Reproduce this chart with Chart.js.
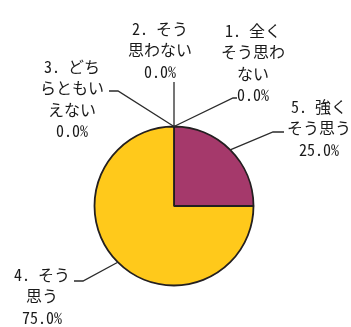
<!DOCTYPE html>
<html>
<head>
<meta charset="utf-8">
<script src="https://cdn.jsdelivr.net/npm/chart.js@4/dist/chart.umd.min.js"></script>
<style>
  html, body { margin: 0; padding: 0; background: #ffffff; }
  #wrap { width: 351px; height: 327px; }
</style>
</head>
<body>
<div id="wrap"><canvas id="c" width="351" height="327"></canvas></div>
<script>
// ---- data (drawn clockwise from 12 o'clock) ----
const categories = ['5. 強くそう思う', '4. そう思う', '3. どちらともいえない', '2. そう思わない', '1. 全くそう思わない'];
const values = [25, 75, 0, 0, 0];
const colors = ['#A5396B', '#FFC91B', '#4F81BD', '#9BBB59', '#8064A2'];

// ---- label layout (text centre x, first line centre y, leader elbow / end) ----
const labelLayout = [
  { cx: 319, y0: 107, elbow: [273, 132], end: [284, 132] },
  { cx: 42,  y0: 275, elbow: [83, 281],  end: [74, 281] },
  { cx: 72,  y0: 67,  elbow: [118, 91],  end: [109, 91] },
  { cx: 160, y0: 29,  elbow: [174, 82],  end: [174, 82] },
  { cx: 253, y0: 31,  elbow: [233, 98],  end: [237, 98] }
];
const LINE_H = 21.3;
const FONT = '16px "Noto Sans Mono CJK JP", "Noto Sans CJK JP", sans-serif';

function wrapLabel(s) {
  // first line: number prefix + two characters, then four characters per line
  const m = s.match(/^(\d+\.\s)(.*)$/);
  const head = m[1], rest = Array.from(m[2]);
  const lines = [head + rest.slice(0, 2).join('')];
  for (let i = 2; i < rest.length; i += 4) lines.push(rest.slice(i, i + 4).join(''));
  return lines;
}

const total = values.reduce((a, b) => a + b, 0);

const leaderPlugin = {
  id: 'leaders',
  afterDatasetsDraw(chart) {
    const ctx = chart.ctx;
    const meta = chart.getDatasetMeta(0);
    ctx.save();
    meta.data.forEach((arc, i) => {
      const p = arc.getProps(['x', 'y', 'startAngle', 'endAngle', 'outerRadius'], true);
      const a = (p.startAngle + p.endAngle) / 2;
      const ax = p.x + Math.cos(a) * p.outerRadius;
      const ay = p.y + Math.sin(a) * p.outerRadius;
      const L = labelLayout[i];
      ctx.strokeStyle = '#2b2b2b';
      ctx.lineWidth = 1.3;
      ctx.beginPath();
      ctx.moveTo(ax, ay);
      ctx.lineTo(L.elbow[0], L.elbow[1]);
      ctx.lineTo(L.end[0], L.end[1]);
      ctx.stroke();

      const lines = wrapLabel(categories[i]);
      lines.push((values[i] / total * 100).toFixed(1) + '%');
      ctx.fillStyle = '#1a1a1a';
      ctx.font = FONT;
      ctx.textAlign = 'center';
      ctx.textBaseline = 'middle';
      lines.forEach((t, k) => ctx.fillText(t, L.cx, L.y0 + k * LINE_H));
    });
    ctx.restore();
  }
};

new Chart(document.getElementById('c'), {
  type: 'pie',
  data: {
    labels: categories,
    datasets: [{
      data: values,
      backgroundColor: colors,
      borderColor: '#231F20',
      borderWidth: 1.8,
      borderAlign: 'center'
    }]
  },
  options: {
    responsive: false,
    animation: false,
    radius: 79.5,
    layout: { padding: { left: 94, right: 97, top: 126, bottom: 41 } },
    plugins: { legend: { display: false }, tooltip: { enabled: false } }
  },
  plugins: [leaderPlugin]
});
</script>
</body>
</html>
